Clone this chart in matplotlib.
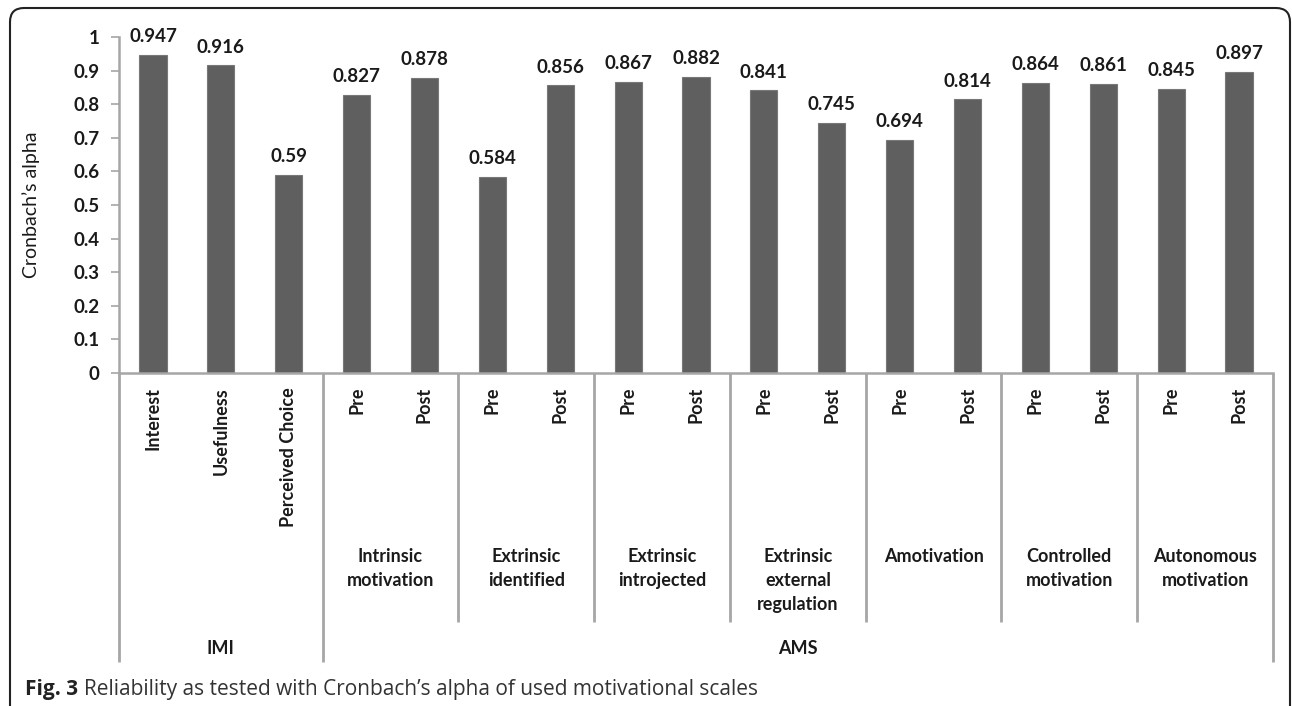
import matplotlib
matplotlib.use("Agg")
import matplotlib.pyplot as plt
import matplotlib.patches as mpatches
from matplotlib.transforms import blended_transform_factory

# ======================
# data
# ======================
categories = ["Interest", "Usefulness", "Perceived Choice",
              "Pre", "Post", "Pre", "Post", "Pre", "Post", "Pre", "Post",
              "Pre", "Post", "Pre", "Post", "Pre", "Post"]
alpha = [0.947, 0.916, 0.59, 0.827, 0.878, 0.584, 0.856, 0.867, 0.882,
         0.841, 0.745, 0.694, 0.814, 0.864, 0.861, 0.845, 0.897]
scales = ["Intrinsic\nmotivation", "Extrinsic\nidentified", "Extrinsic\nintrojected",
          "Extrinsic\nexternal\nregulation", "Amotivation", "Controlled\nmotivation",
          "Autonomous\nmotivation"]
scale_start = 3          # first AMS bar; each scale has Pre / Post
instruments = ["IMI", "AMS"]
instrument_sizes = [3, 14]
yticks = [0, 0.1, 0.2, 0.3, 0.4, 0.5, 0.6, 0.7, 0.8, 0.9, 1]

W, H = 1292, 706
FONT = "Lato"
AXIS_C = "#a6a6a6"
TEXT_C = "#1a1a1a"

def fy(py):
    return 1 - py / H

fig = plt.figure(figsize=(W / 100, H / 100), dpi=100)
ax = fig.add_axes([119 / W, fy(373), (1273 - 119) / W, (373 - 37) / H])

x = list(range(len(alpha)))
ax.bar(x, alpha, width=0.4, color="#5f5f5f", edgecolor="#787878", linewidth=0.8, zorder=2)
for xi, v in zip(x, alpha):
    ax.annotate(str(v), (xi, v), xytext=(0, 7), textcoords="offset points",
                ha="center", va="bottom", fontsize=13.5, fontfamily=FONT,
                fontweight="bold", color=TEXT_C)

ax.set_xlim(-0.5, len(alpha) - 0.5)
ax.set_ylim(0, 1)
ax.set_yticks(yticks)
ax.set_yticklabels(["{:g}".format(t) for t in yticks], fontfamily=FONT,
                   fontweight="bold", fontsize=13.5, color=TEXT_C)
ax.tick_params(axis="y", direction="out", length=6, width=1.2, color=AXIS_C, pad=8)
ax.set_xticks(x)
ax.set_xticklabels(categories, rotation=90, va="top", ha="center", fontfamily=FONT,
                   fontweight="bold", fontsize=13, color=TEXT_C)
ax.tick_params(axis="x", length=0, pad=10)
for s in ["top", "right"]:
    ax.spines[s].set_visible(False)
for s in ["left", "bottom"]:
    ax.spines[s].set_color(AXIS_C)
    ax.spines[s].set_linewidth(1.8)
ax.set_ylabel("Cronbach\u2019s alpha", fontfamily=FONT, fontsize=14, color=TEXT_C)
ax.yaxis.set_label_coords(-(119 - 40) / (1273 - 119), 0.5)

# ======================
# multi level category axis
# ======================
tr = blended_transform_factory(ax.transData, fig.transFigure)

def sep(xpos, bottom):
    ax.plot([xpos, xpos], [fy(373), fy(bottom)], transform=tr, color=AXIS_C,
            lw=2, clip_on=False, solid_capstyle="butt")

for i, name in enumerate(scales):
    a = scale_start + 2 * i
    ax.text(a + 0.5, fy(548), name, transform=tr, ha="center", va="top",
            fontsize=13, fontfamily=FONT, fontweight="bold", color=TEXT_C,
            linespacing=1.5)
    if i > 0:
        sep(a - 0.5, 622)

start = -0.5
sep(start, 662)
for name, n in zip(instruments, instrument_sizes):
    ax.text(start + n / 2, fy(648), name, transform=tr, ha="center", va="center",
            fontsize=13, fontfamily=FONT, fontweight="bold", color=TEXT_C)
    start += n
    sep(start, 662)

# ======================
# frame + caption
# ======================
frame = mpatches.FancyBboxPatch((10, -40), 1280, H - 8 + 40,
                                boxstyle="round,pad=0,rounding_size=14",
                                transform=None, fill=False, edgecolor="#222222", lw=1.5)
fig.patches.append(frame)

t1 = fig.text(25 / W, fy(690), "Fig. 3", fontsize=15, fontweight="bold",
              fontfamily="Open Sans", va="center", color="#222222")
fig.canvas.draw()
bb = t1.get_window_extent(fig.canvas.get_renderer())
fig.text((bb.x1 + 6) / W, fy(690),
         "Reliability as tested with Cronbach\u2019s alpha of used motivational scales",
         fontsize=15, fontfamily="Open Sans", va="center", color="#333333")

plt.savefig("out.png", dpi=100)
